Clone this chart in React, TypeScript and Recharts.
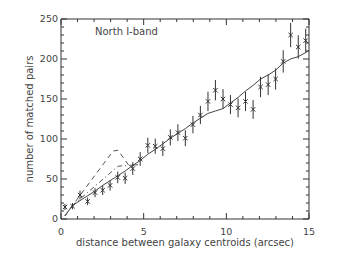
import React from "react";
import { ComposedChart, Line, Scatter, ErrorBar, XAxis, YAxis } from "recharts";

// measured points (arcsec, counts, 1-sigma)
const sep = [0.24, 0.7, 1.15, 1.61, 2.06, 2.52, 2.97, 3.43, 3.88, 4.34, 4.79, 5.25, 5.7, 6.16, 6.61, 7.07, 7.52,
    7.98, 8.43, 8.89, 9.34, 9.8, 10.25, 10.71, 11.16, 11.62, 12.07, 12.53, 12.98, 13.44, 13.89, 14.35, 14.8];
const pairs = [15, 16, 30, 22, 33, 36, 42, 52, 51, 63, 75, 92, 91, 88, 102, 108, 101, 118, 130, 147, 161, 150, 143,
    139, 147, 137, 165, 168, 175, 197, 230, 215, 223];
const pairsErr = [3.9, 4, 5.5, 4.7, 5.7, 6, 6.5, 7.2, 7.1, 7.9, 8.7, 9.6, 9.5, 9.4, 10.1, 10.4, 10, 10.9, 11.4, 12.1,
    12.7, 12.2, 12, 11.8, 12.1, 11.7, 12.8, 13, 13.2, 14, 15.2, 14.7, 14.9];

// model curves
const modelX = [...sep, 15];
const modelY = [4, 17, 23, 29, 35, 42, 48, 54, 60, 67, 73, 81, 87, 94, 101, 107, 113, 120, 126, 132, 135, 138, 145,
    152, 160, 167, 175, 180, 186, 195, 200, 203, 208, 211];
const dashX = [0.24, 0.7, 3.15, 3.45, 4.1, 4.8];
const dashY = [4, 17, 85, 86, 67, 68];
const dotDashX = [0.24, 0.7, 3.45, 4.8];
const dotDashY = [4, 17, 66, 68];

const xTicks = [0, 1, 2, 3, 4, 5, 6, 7, 8, 9, 10, 11, 12, 13, 14, 15];
const yTicks = [0, 10, 20, 30, 40, 50, 60, 70, 80, 90, 100, 110, 120, 130, 140, 150, 160, 170, 180, 190, 200,
    210, 220, 230, 240, 250];

const ink = "#333";
const textInk = "#444";
const font = "DejaVu Sans";
const GAP = 9;

const points = sep.map((x, i) => ({ x, y: pairs[i], err: pairsErr[i] }));
const model = modelX.map((x, i) => ({ x, y: modelY[i] }));
const dash = dashX.map((x, i) => ({ x, y: dashY[i] }));
const dotDash = dotDashX.map((x, i) => ({ x, y: dotDashY[i] }));

function BottomTick(props: any) {
    const { x, y, payload } = props;
    const major = payload.value % 5 === 0;
    const ay = y - GAP;
    return (
        <g>
            <line x1={x} x2={x} y1={ay} y2={ay - (major ? 6 : 3)} stroke={ink} />
            {major && (
                <text x={x} y={y} dy='0.71em' textAnchor='middle' fontSize={9.5} fontFamily={font} fill={textInk}>
                    {payload.value}
                </text>
            )}
        </g>
    );
}

function TopTick(props: any) {
    const { x, y, payload } = props;
    const major = payload.value % 5 === 0;
    return <line x1={x} x2={x} y1={y} y2={y + (major ? 6 : 3)} stroke={ink} />;
}

function LeftTick(props: any) {
    const { x, y, payload } = props;
    const major = payload.value % 50 === 0;
    const ax = x + 3;
    return (
        <g>
            <line x1={ax} x2={ax + (major ? 6 : 3)} y1={y} y2={y} stroke={ink} />
            {major && (
                <text x={x} y={y} dy='0.35em' textAnchor='end' fontSize={9.5} fontFamily={font} fill={textInk}>
                    {payload.value}
                </text>
            )}
        </g>
    );
}

function RightTick(props: any) {
    const { x, y, payload } = props;
    const major = payload.value % 50 === 0;
    return <line x1={x} x2={x - (major ? 6 : 3)} y1={y} y2={y} stroke={ink} />;
}

function Cross(props: any) {
    const { cx, cy } = props;
    const s = 2.2;
    return (
        <path
            d={`M${cx - s},${cy - s}L${cx + s},${cy + s}M${cx - s},${cy + s}L${cx + s},${cy - s}`}
            stroke={ink}
            strokeWidth={1}
        />
    );
}

export default function App() {
    return (
        <div style={{ position: "absolute", left: 0, top: 0, width: 350, height: 261, background: "#fff" }}>
            <ComposedChart width={350} height={261} margin={{ top: 18, right: 40, bottom: 0, left: 0 }}>
                <XAxis
                    dataKey='x'
                    type='number'
                    domain={[0, 15]}
                    ticks={xTicks}
                    interval={0}
                    height={42}
                    tickSize={0}
                    tickMargin={GAP}
                    tick={<BottomTick />}
                    stroke={ink}
                    label={{
                        value: "distance between galaxy centroids (arcsec)",
                        position: "center",
                        dy: 2,
                        fontSize: 10,
                        fontFamily: font,
                        fill: textInk,
                    }}
                />
                <XAxis
                    xAxisId='top'
                    orientation='top'
                    dataKey='x'
                    type='number'
                    domain={[0, 15]}
                    ticks={xTicks}
                    interval={0}
                    height={1}
                    tickSize={0}
                    tickMargin={0}
                    tick={<TopTick />}
                    stroke={ink}
                />
                <YAxis
                    type='number'
                    domain={[0, 250]}
                    ticks={yTicks}
                    interval={0}
                    width={61}
                    tickSize={0}
                    tickMargin={3}
                    tick={<LeftTick />}
                    stroke={ink}
                    label={{
                        value: "number of matched pairs",
                        position: "center",
                        angle: -90,
                        dx: -1,
                        fontSize: 10,
                        fontFamily: font,
                        fill: textInk,
                    }}
                />
                <YAxis
                    yAxisId='r'
                    orientation='right'
                    type='number'
                    domain={[0, 250]}
                    ticks={yTicks}
                    interval={0}
                    width={1}
                    tickSize={0}
                    tickMargin={0}
                    tick={<RightTick />}
                    stroke={ink}
                />
                <Line xAxisId='top' yAxisId='r' data={model} dataKey='y' stroke='none' dot={false} legendType='none' isAnimationActive={false} />
                <Line data={model} dataKey='y' type='linear' stroke='#444' strokeWidth={1} dot={false} isAnimationActive={false} />
                <Line data={dash} dataKey='y' type='linear' stroke='#555' strokeWidth={1} strokeDasharray='5 4' dot={false} isAnimationActive={false} />
                <Line data={dotDash} dataKey='y' type='linear' stroke='#555' strokeWidth={1} strokeDasharray='5 3 1 3' dot={false} isAnimationActive={false} />
                <Scatter data={points} dataKey='y' shape={<Cross />} isAnimationActive={false}>
                    <ErrorBar dataKey='err' direction='y' width={0} stroke={ink} strokeWidth={1} isAnimationActive={false} />
                </Scatter>
            </ComposedChart>
            <div
                style={{
                    position: "absolute",
                    left: 95,
                    top: 26,
                    fontFamily: font,
                    fontSize: 10,
                    color: textInk,
                    lineHeight: "12px",
                    whiteSpace: "nowrap",
                }}
            >
                North I-band
            </div>
        </div>
    );
}
